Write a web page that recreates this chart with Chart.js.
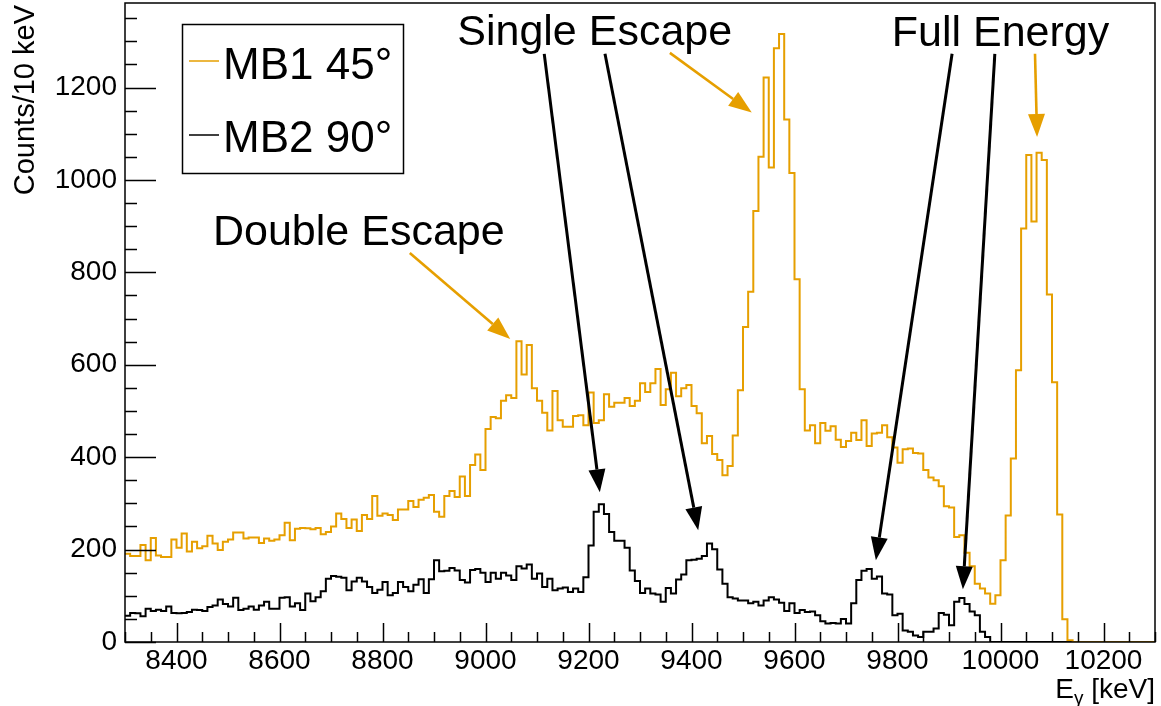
<!DOCTYPE html>
<html>
<head>
<meta charset="utf-8">
<title>MB1 / MB2 gamma spectra</title>
<script src="https://cdn.jsdelivr.net/npm/chart.js@4/dist/chart.umd.min.js"></script>
<style>
  html, body { margin: 0; padding: 0; background: #ffffff; }
  canvas { display: block; }
</style>
</head>
<body>
<canvas id="spectrum" width="1161" height="706"></canvas>
<script>
// Histogram binning: 10 keV bins starting at 8300 keV
const BIN_LOW = 8300;
const BIN_WIDTH = 10;
const N_BINS = 200;

// Counts per 10 keV bin, detector MB1 at 45 degrees
const mb1Counts = [
  191,186,186,210,177,225,187,184,184,222,
  204,235,196,217,203,207,230,213,199,217,
  222,237,237,224,226,226,214,224,219,222,
  231,258,220,245,247,246,244,247,233,238,
  250,278,266,247,265,240,275,266,316,273,
  278,275,264,287,287,305,292,308,312,318,
  282,271,316,327,314,358,316,383,406,372,
  461,487,484,522,534,528,651,579,643,549,
  522,496,458,543,480,466,466,489,491,469,
  540,474,480,536,509,518,518,528,511,522,
  560,541,560,591,513,547,583,532,549,556,
  511,495,430,446,407,394,361,381,447,545,
  682,758,933,1050,1222,1027,1285,1316,1131,1015,
  785,547,458,469,430,474,457,467,438,422,
  435,453,437,480,424,451,453,469,443,421,
  388,417,419,409,408,372,356,350,337,294,
  291,227,231,193,164,126,116,105,83,101,
  177,274,397,588,895,1054,910,1059,1043,752,
  562,276,49,4,0,0,0,0,0,0,
  0,0,0,0,0,0,0,0,0,0
];

// Counts per 10 keV bin, detector MB2 at 90 degrees
const mb2Counts = [
  57,63,62,56,72,67,70,67,77,63,
  62,63,65,70,69,67,76,79,92,82,
  77,96,69,72,77,70,79,87,72,72,
  96,97,77,84,69,105,88,97,110,137,
  143,141,139,112,131,139,131,119,106,113,
  130,101,106,130,119,110,124,136,106,136,
  177,153,154,160,155,134,129,156,158,150,
  130,150,137,150,144,134,164,159,168,137,
  148,119,137,112,116,118,108,116,108,140,
  209,282,298,277,238,219,219,204,155,132,
  106,116,105,103,87,117,105,135,146,177,
  178,180,186,213,201,157,126,97,94,90,
  90,84,87,79,90,97,92,85,67,84,
  63,69,65,66,58,45,40,41,40,50,
  40,84,134,154,158,137,142,105,103,58,
  61,25,22,14,11,22,22,29,63,59,
  36,87,95,82,66,58,22,11,0,0,
  0,0,0,0,0,0,0,0,0,0,
  0,0,0,0,0,0,0,0,0,0,
  0,0,0,0,0,0,0,0,0,0
];

const seriesNames = ['MB1 45°', 'MB2 90°'];
const xTickLabels = [8400, 8600, 8800, 9000, 9200, 9400, 9600, 9800, 10000, 10200];
const yTickLabels = [0, 200, 400, 600, 800, 1000, 1200];

// Annotation texts and arrows, anchored in data units (keV, counts)
const peakLabels = [
  { text: 'Double Escape', e: 8754, c: 859 },
  { text: 'Single Escape', e: 9212, c: 1292 },
  { text: 'Full Energy',   e: 10000, c: 1290 }
];
const peakArrows = [
  { from: [8853, 842],  to: [9048, 656],  series: 0 },
  { from: [9358, 1275], to: [9517, 1146], series: 0 },
  { from: [10067, 1273], to: [10071, 1093], series: 0 },
  { from: [9114, 1273], to: [9222, 324],  series: 1 },
  { from: [9232, 1273], to: [9413, 242],  series: 1 },
  { from: [9906, 1273], to: [9758, 177],  series: 1 },
  { from: [9989, 1273], to: [9927, 114],  series: 1 }
];

const ORANGE = '#e69f00';
const BLACK = '#000000';
const seriesColors = [ORANGE, BLACK];
const FONT = '"Liberation Sans", Arial, Helvetica, sans-serif';

// Step outline: one point per left bin edge, plus the closing right edge
function histPoints(counts) {
  const pts = counts.map((v, i) => ({ x: BIN_LOW + i * BIN_WIDTH, y: v }));
  pts.push({ x: BIN_LOW + N_BINS * BIN_WIDTH, y: counts[counts.length - 1] });
  return pts;
}

// ROOT-like frame, inward ticks, axis titles, legend and annotations
const rootFrame = {
  id: 'rootFrame',
  afterDraw(chart) {
    const { ctx, chartArea: a, scales } = chart;
    const xs = scales.x, ys = scales.y;
    ctx.save();

    // frame
    ctx.strokeStyle = BLACK;
    ctx.lineWidth = 1.5;
    ctx.strokeRect(a.left, a.top, a.right - a.left, a.bottom - a.top);

    // inward tick marks (minor every 50)
    ctx.lineWidth = 1.5;
    ctx.beginPath();
    for (let v = xs.min; v <= xs.max; v += 50) {
      const px = Math.round(xs.getPixelForValue(v)) + 0.5;
      const len = xTickLabels.includes(v) ? 19 : 10;
      ctx.moveTo(px, a.bottom);
      ctx.lineTo(px, a.bottom - len);
    }
    for (let v = 0; v <= ys.max; v += 50) {
      const py = Math.round(ys.getPixelForValue(v)) + 0.5;
      const len = yTickLabels.includes(v) ? 31 : 12;
      ctx.moveTo(a.left, py);
      ctx.lineTo(a.left + len, py);
    }
    ctx.stroke();

    // y axis title
    ctx.fillStyle = BLACK;
    ctx.font = '29px ' + FONT;
    ctx.save();
    ctx.translate(34, a.top + 2);
    ctx.rotate(-Math.PI / 2);
    ctx.textAlign = 'right';
    ctx.textBaseline = 'alphabetic';
    ctx.fillText('Counts/10 keV', 0, 0);
    ctx.restore();

    // x axis title: E with gamma subscript, then unit
    const base = 698;
    ctx.textAlign = 'right';
    ctx.textBaseline = 'alphabetic';
    ctx.font = '28px ' + FONT;
    const unit = ' [keV]';
    ctx.fillText(unit, a.right, base);
    let xr = a.right - ctx.measureText(unit).width;
    ctx.font = '19px ' + FONT;
    ctx.fillText('\u03B3', xr, base + 6);
    xr -= ctx.measureText('\u03B3').width;
    ctx.font = '28px ' + FONT;
    ctx.fillText('E', xr, base);

    // legend
    const lg = { x: 182.5, y: 24.5, w: 221, h: 149 };
    ctx.fillStyle = '#ffffff';
    ctx.fillRect(lg.x, lg.y, lg.w, lg.h);
    ctx.strokeStyle = BLACK;
    ctx.lineWidth = 1.5;
    ctx.strokeRect(lg.x, lg.y, lg.w, lg.h);
    const rows = [61, 135];
    const baselines = [79, 152];
    ctx.font = '44px ' + FONT;
    ctx.textAlign = 'left';
    seriesNames.forEach((name, i) => {
      ctx.strokeStyle = seriesColors[i];
      ctx.lineWidth = 1.5;
      ctx.beginPath();
      ctx.moveTo(189, rows[i]);
      ctx.lineTo(219, rows[i]);
      ctx.stroke();
      ctx.fillStyle = BLACK;
      ctx.fillText(name, 223, baselines[i]);
    });

    // peak labels
    ctx.font = '43px ' + FONT;
    ctx.textAlign = 'center';
    ctx.fillStyle = BLACK;
    peakLabels.forEach(l => {
      ctx.fillText(l.text, xs.getPixelForValue(l.e), ys.getPixelForValue(l.c));
    });

    // arrows with filled heads
    peakArrows.forEach(ar => {
      const x0 = xs.getPixelForValue(ar.from[0]), y0 = ys.getPixelForValue(ar.from[1]);
      const x1 = xs.getPixelForValue(ar.to[0]), y1 = ys.getPixelForValue(ar.to[1]);
      const ang = Math.atan2(y1 - y0, x1 - x0);
      const headLen = 23, headHalf = 8.5;
      const bx = x1 - headLen * Math.cos(ang), by = y1 - headLen * Math.sin(ang);
      const col = seriesColors[ar.series];
      ctx.strokeStyle = col;
      ctx.fillStyle = col;
      ctx.lineWidth = ar.series === 0 ? 2.6 : 3;
      ctx.beginPath();
      ctx.moveTo(x0, y0);
      ctx.lineTo(bx, by);
      ctx.stroke();
      ctx.beginPath();
      ctx.moveTo(x1, y1);
      ctx.lineTo(bx + headHalf * Math.sin(ang), by - headHalf * Math.cos(ang));
      ctx.lineTo(bx - headHalf * Math.sin(ang), by + headHalf * Math.cos(ang));
      ctx.closePath();
      ctx.fill();
    });

    ctx.restore();
  }
};

new Chart(document.getElementById('spectrum'), {
  type: 'line',
  data: {
    datasets: [
      {
        label: seriesNames[0],
        data: histPoints(mb1Counts),
        borderColor: ORANGE,
        borderWidth: 2,
        pointRadius: 0,
        stepped: 'before',
        fill: false
      },
      {
        label: seriesNames[1],
        data: histPoints(mb2Counts),
        borderColor: BLACK,
        borderWidth: 2,
        pointRadius: 0,
        stepped: 'before',
        fill: false
      }
    ]
  },
  options: {
    responsive: false,
    animation: false,
    devicePixelRatio: 1,
    layout: { padding: { top: 3, right: 6, left: 0, bottom: 0 } },
    plugins: { legend: { display: false }, tooltip: { enabled: false } },
    scales: {
      x: {
        type: 'linear',
        min: BIN_LOW,
        max: BIN_LOW + N_BINS * BIN_WIDTH,
        grid: { display: false, drawTicks: false },
        border: { display: false },
        afterBuildTicks(scale) { scale.ticks = xTickLabels.map(v => ({ value: v })); },
        afterFit(scale) {
          scale.height = 64;
          scale.paddingLeft = 0;
          scale.paddingRight = 0;
        },
        ticks: {
          autoSkip: false,
          maxRotation: 0,
          padding: 2,
          color: BLACK,
          font: { family: FONT, size: 28 },
          callback: v => String(v)
        }
      },
      y: {
        type: 'linear',
        min: 0,
        max: 1383,
        grid: { display: false, drawTicks: false },
        border: { display: false },
        afterBuildTicks(scale) { scale.ticks = yTickLabels.map(v => ({ value: v })); },
        afterFit(scale) {
          scale.width = 125;
          scale.paddingTop = 0;
          scale.paddingBottom = 0;
        },
        ticks: {
          autoSkip: false,
          padding: 8,
          color: BLACK,
          font: { family: FONT, size: 28 },
          callback: v => String(v)
        }
      }
    }
  },
  plugins: [rootFrame]
});
</script>
</body>
</html>
